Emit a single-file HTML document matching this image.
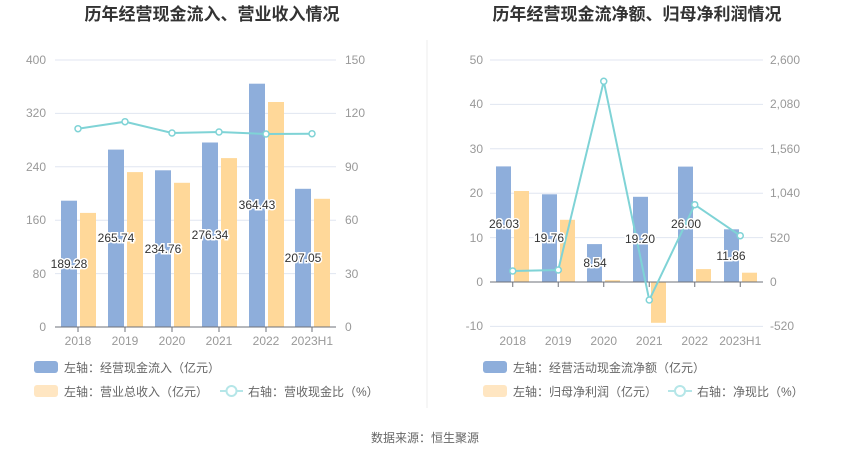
<!DOCTYPE html>
<html><head><meta charset="utf-8"><style>
body{margin:0;background:#fff;}
svg{display:block;font-family:"Liberation Sans","Noto Sans CJK SC",sans-serif;}
.t{font-size:12px;fill:#999}
.lb{font-size:12px;fill:#333;stroke:#fff;stroke-width:3px;paint-order:stroke;text-anchor:middle}
.lg{font-size:12px;fill:#666}
.g{stroke:#e0e6f1;stroke-width:1}
</style></head><body>
<svg width="850" height="459" viewBox="0 0 850 459">
<rect width="850" height="459" fill="#fff"/>
<text x="212" y="20" text-anchor="middle" font-size="17" font-weight="bold" fill="#333">历年经营现金流入、营业收入情况</text>
<text x="637" y="20" text-anchor="middle" font-size="17" font-weight="bold" fill="#333">历年经营现金流净额、归母净利润情况</text>
<line x1="427" y1="40" x2="427" y2="408" stroke="#eee"/>
<!-- LEFT -->
<g>
<line class="g" x1="55" x2="336" y1="60" y2="60"/><line class="g" x1="55" x2="336" y1="113.4" y2="113.4"/><line class="g" x1="55" x2="336" y1="166.8" y2="166.8"/><line class="g" x1="55" x2="336" y1="220.2" y2="220.2"/><line class="g" x1="55" x2="336" y1="273.6" y2="273.6"/>
<g class="t" text-anchor="end"><text x="46" y="64">400</text><text x="46" y="117">320</text><text x="46" y="171">240</text><text x="46" y="224">160</text><text x="46" y="278">80</text><text x="46" y="331">0</text></g>
<g class="t"><text x="345" y="64">150</text><text x="345" y="117">120</text><text x="345" y="171">90</text><text x="345" y="224">60</text><text x="345" y="278">30</text><text x="345" y="331">0</text></g>
<g fill="#8eaedb">
<rect x="61" y="200.7" width="16" height="126.3"/><rect x="108" y="149.6" width="16" height="177.4"/><rect x="155" y="170.3" width="16" height="156.7"/><rect x="202" y="142.5" width="16" height="184.5"/><rect x="249" y="83.7" width="16" height="243.3"/><rect x="295" y="188.8" width="16" height="138.2"/>
</g>
<g fill="#ffd899">
<rect x="80" y="212.9" width="16" height="114.1"/><rect x="127" y="172.1" width="16" height="154.9"/><rect x="174" y="182.8" width="16" height="144.2"/><rect x="221" y="158.1" width="16" height="168.9"/><rect x="268" y="102" width="16" height="225"/><rect x="314" y="198.8" width="16" height="128.2"/>
</g>
<line x1="55" x2="336" y1="327" y2="327" stroke="#6e7079"/>
<g stroke="#6e7079"><line x1="78" x2="78" y1="327" y2="332"/><line x1="125" x2="125" y1="327" y2="332"/><line x1="172" x2="172" y1="327" y2="332"/><line x1="219" x2="219" y1="327" y2="332"/><line x1="266" x2="266" y1="327" y2="332"/><line x1="312" x2="312" y1="327" y2="332"/></g>
<g class="t" text-anchor="middle"><text x="78" y="345">2018</text><text x="125" y="345">2019</text><text x="172" y="345">2020</text><text x="219" y="345">2021</text><text x="266" y="345">2022</text><text x="312" y="345">2023H1</text></g>
<polyline points="78,128.7 125,121.7 172,133 219,132 266,134 312,133.7" fill="none" stroke="#7fd3d6" stroke-width="2"/>
<g fill="#fff" stroke="#7fd3d6" stroke-width="1.5"><circle cx="78" cy="128.7" r="3"/><circle cx="125" cy="121.7" r="3"/><circle cx="172" cy="133" r="3"/><circle cx="219" cy="132" r="3"/><circle cx="266" cy="134" r="3"/><circle cx="312" cy="133.7" r="3"/></g>
<g class="lb"><text x="69" y="268">189.28</text><text x="116" y="242">265.74</text><text x="163" y="253">234.76</text><text x="210" y="239">276.34</text><text x="257" y="209">364.43</text><text x="303" y="262">207.05</text></g>
<rect x="34" y="361" width="24" height="12" rx="3" fill="#8eaedb"/><text class="lg" x="64" y="372">左轴：经营现金流入（亿元）</text>
<rect x="34" y="385" width="24" height="12" rx="3" fill="#ffe6c2"/><text class="lg" x="64" y="396" fill="#999">左轴：营业总收入（亿元）</text>
<line x1="220" x2="243" y1="391" y2="391" stroke="#b5e6e8" stroke-width="2"/><circle cx="231.5" cy="391" r="5" fill="#fff" stroke="#b5e6e8" stroke-width="2"/>
<text class="lg" x="248" y="396" fill="#999">右轴：营收现金比（%）</text>
</g>
<!-- RIGHT -->
<g>
<line class="g" x1="490" x2="763" y1="60" y2="60"/><line class="g" x1="490" x2="763" y1="104.4" y2="104.4"/><line class="g" x1="490" x2="763" y1="148.8" y2="148.8"/><line class="g" x1="490" x2="763" y1="193.2" y2="193.2"/><line class="g" x1="490" x2="763" y1="237.6" y2="237.6"/><line class="g" x1="490" x2="763" y1="326.4" y2="326.4"/>
<g class="t" text-anchor="end"><text x="483" y="64">50</text><text x="483" y="108">40</text><text x="483" y="153">30</text><text x="483" y="197">20</text><text x="483" y="242">10</text><text x="483" y="286">0</text><text x="483" y="330">-10</text></g>
<g class="t"><text x="770" y="64">2,600</text><text x="770" y="108">2,080</text><text x="770" y="153">1,560</text><text x="770" y="197">1,040</text><text x="770" y="242">520</text><text x="770" y="286">0</text><text x="770" y="330">-520</text></g>
<g fill="#8eaedb">
<rect x="496" y="166.4" width="15" height="115.6"/><rect x="542" y="194.3" width="15" height="87.7"/><rect x="587" y="244.1" width="15" height="37.9"/><rect x="633" y="196.8" width="15" height="85.2"/><rect x="678" y="166.6" width="15" height="115.4"/><rect x="724" y="229.3" width="15" height="52.7"/>
</g>
<g fill="#ffd899">
<rect x="514" y="191" width="15" height="91"/><rect x="560" y="219.8" width="15" height="62.2"/><rect x="605" y="280.2" width="15" height="1.8"/><rect x="651" y="282" width="15" height="40.8"/><rect x="696" y="269.1" width="15" height="12.9"/><rect x="742" y="272.7" width="15" height="9.3"/>
</g>
<line x1="490" x2="763" y1="282" y2="282" stroke="#6e7079"/>
<g stroke="#6e7079"><line x1="512.75" x2="512.75" y1="282" y2="287"/><line x1="558.25" x2="558.25" y1="282" y2="287"/><line x1="603.75" x2="603.75" y1="282" y2="287"/><line x1="649.25" x2="649.25" y1="282" y2="287"/><line x1="694.75" x2="694.75" y1="282" y2="287"/><line x1="740.25" x2="740.25" y1="282" y2="287"/></g>
<g class="t" text-anchor="middle"><text x="512.75" y="345">2018</text><text x="558.25" y="345">2019</text><text x="603.75" y="345">2020</text><text x="649.25" y="345">2021</text><text x="694.75" y="345">2022</text><text x="740.25" y="345">2023H1</text></g>
<polyline points="512.75,271 558.25,270 603.75,81.3 649.25,300 694.75,204.7 740.25,235.7" fill="none" stroke="#7fd3d6" stroke-width="2"/>
<g fill="#fff" stroke="#7fd3d6" stroke-width="1.5"><circle cx="512.75" cy="271" r="3"/><circle cx="558.25" cy="270" r="3"/><circle cx="603.75" cy="81.3" r="3"/><circle cx="649.25" cy="300" r="3"/><circle cx="694.75" cy="204.7" r="3"/><circle cx="740.25" cy="235.7" r="3"/></g>
<g class="lb"><text x="504" y="228">26.03</text><text x="549" y="242">19.76</text><text x="595" y="267">8.54</text><text x="640" y="243">19.20</text><text x="686" y="228">26.00</text><text x="731" y="260">11.86</text></g>
<rect x="483" y="361" width="24" height="12" rx="3" fill="#8eaedb"/><text class="lg" x="513" y="372">左轴：经营活动现金流净额（亿元）</text>
<rect x="483" y="385" width="24" height="12" rx="3" fill="#ffe6c2"/><text class="lg" x="513" y="396" fill="#999">左轴：归母净利润（亿元）</text>
<line x1="668" x2="692" y1="391" y2="391" stroke="#b5e6e8" stroke-width="2"/><circle cx="680" cy="391" r="5" fill="#fff" stroke="#b5e6e8" stroke-width="2"/>
<text class="lg" x="697" y="396" fill="#999">右轴：净现比（%）</text>
</g>
<text x="425" y="442" text-anchor="middle" font-size="12" fill="#666">数据来源：恒生聚源</text>
</svg>
</body></html>
